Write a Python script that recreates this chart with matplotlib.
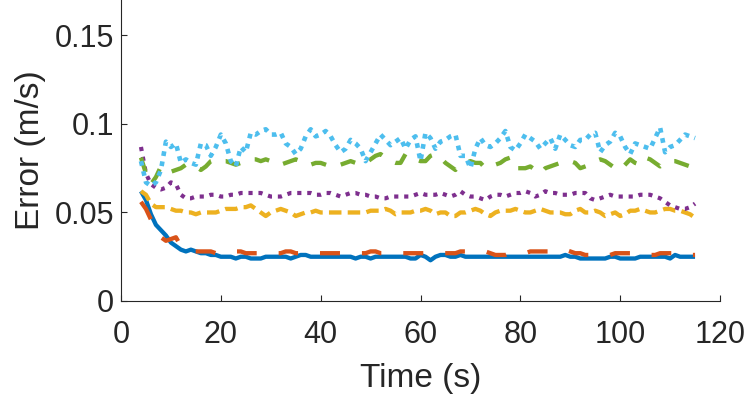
import numpy as np
import matplotlib
matplotlib.use("Agg")
from matplotlib import pyplot as plt

plt.rcParams['font.family'] = ['Liberation Sans', 'DejaVu Sans']
plt.rcParams['lines.scale_dashes'] = False

# time axis, one sample per second
t = list(range(4, 116))

err_blue = [.062, .057, .049, .043, .040, .037, .033, .031, .029, .028, .029, .028, .027, .027, .026, .026,
            .025, .025, .025, .024, .025, .025, .024, .024, .024, .025, .025, .025, .025, .025, .024, .025,
            .026, .026, .025, .025, .025, .025, .025, .025, .025, .025, .025, .024, .025, .025, .024, .025,
            .025, .025, .025, .025, .025, .025, .024, .024, .026, .025, .023, .025, .026, .026, .025, .025,
            .026, .025, .025, .025, .025, .025, .025, .025, .025, .025, .025, .025, .025, .025, .025, .025,
            .025, .025, .025, .025, .025, .026, .025, .025, .024, .024, .024, .024, .024, .024, .025, .025,
            .024, .024, .024, .024, .025, .025, .025, .025, .025, .025, .024, .026, .025, .025, .025, .025]
err_orange = [.056, .052, .046, .040, .036, .034, .035, .036, .031, .029, .028, .028, .028, .028, .028, .027,
              .027, .027, .028, .028, .028, .027, .027, .027, .027, .027, .027, .027, .027, .028, .028, .027,
              .027, .027, .027, .027, .027, .027, .027, .027, .027, .027, .027, .027, .027, .027, .028, .028,
              .027, .027, .027, .027, .027, .027, .027, .027, .027, .027, .027, .027, .027, .027, .027, .027,
              .028, .028, .028, .028, .028, .028, .027, .026, .026, .026, .027, .027, .027, .027, .028, .028,
              .028, .028, .028, .028, .028, .029, .028, .027, .027, .026, .026, .026, .026, .026, .026, .027,
              .027, .027, .027, .026, .026, .026, .026, .026, .027, .027, .027, .027, .026, .026, .026, .026]
err_yellow = [.062, .060, .055, .053, .053, .053, .052, .051, .051, .050, .050, .049, .050, .050, .050, .050,
              .051, .052, .052, .052, .053, .053, .054, .052, .050, .048, .050, .051, .052, .051, .050, .048,
              .049, .050, .050, .051, .050, .050, .050, .050, .050, .050, .050, .050, .050, .050, .051, .051,
              .051, .052, .051, .049, .050, .050, .050, .051, .051, .052, .051, .049, .050, .050, .048, .048,
              .050, .050, .051, .052, .051, .049, .048, .050, .051, .051, .051, .052, .051, .050, .050, .051,
              .052, .051, .050, .050, .050, .049, .049, .051, .052, .050, .050, .051, .050, .048, .049, .050,
              .048, .049, .051, .051, .052, .051, .050, .050, .051, .052, .052, .051, .051, .050, .049, .047]
err_purple = [.087, .072, .066, .064, .063, .064, .067, .066, .060, .058, .058, .059, .059, .059, .060, .060,
              .059, .059, .060, .060, .061, .061, .061, .061, .061, .060, .059, .059, .059, .060, .061, .061,
              .061, .061, .061, .060, .060, .061, .061, .060, .059, .060, .061, .061, .060, .060, .059, .059,
              .058, .058, .059, .059, .059, .059, .059, .060, .061, .060, .060, .060, .061, .060, .059, .060,
              .062, .060, .059, .059, .058, .057, .059, .060, .060, .059, .060, .061, .061, .062, .061, .059,
              .060, .062, .061, .061, .060, .060, .060, .061, .061, .061, .058, .057, .058, .059, .060, .059,
              .059, .059, .059, .059, .060, .060, .060, .059, .058, .056, .054, .053, .052, .052, .053, .055]
err_green = [.081, .072, .066, .070, .076, .074, .073, .074, .075, .077, .077, .076, .074, .076, .079, .080,
             .079, .079, .078, .077, .078, .079, .080, .080, .079, .080, .079, .077, .077, .078, .079, .080,
             .079, .077, .077, .078, .078, .077, .076, .076, .077, .078, .079, .078, .077, .078, .080, .082,
             .083, .081, .079, .078, .078, .083, .081, .080, .079, .079, .082, .083, .081, .078, .076, .074,
             .077, .078, .079, .078, .078, .075, .076, .077, .078, .080, .081, .075, .075, .075, .076, .074,
             .072, .075, .076, .077, .078, .079, .079, .078, .075, .076, .077, .079, .080, .079, .077, .075,
             .074, .077, .080, .078, .077, .081, .080, .078, .076, .078, .079, .079, .078, .077, .076, .074]
err_cyan = [.079, .067, .065, .067, .074, .090, .087, .089, .078, .080, .078, .077, .089, .088, .082, .087,
            .094, .089, .079, .076, .087, .084, .095, .094, .096, .097, .094, .094, .095, .089, .087, .083,
            .086, .093, .097, .093, .094, .096, .093, .088, .084, .086, .091, .089, .086, .079, .084, .089,
            .094, .091, .088, .090, .092, .086, .091, .093, .079, .095, .092, .086, .090, .091, .093, .094,
            .082, .082, .075, .086, .092, .088, .087, .089, .092, .096, .087, .085, .089, .094, .092, .090,
            .086, .089, .092, .086, .094, .091, .088, .087, .091, .091, .094, .095, .084, .088, .090, .095,
            .093, .087, .083, .089, .088, .087, .086, .092, .098, .084, .087, .088, .091, .094, .093, .092]

xticks = [0, 20, 40, 60, 80, 100, 120]
yticks = [0, 0.05, 0.1, 0.15]
ytick_labels = ['0', '0.05', '0.1', '0.15']

fig = plt.figure(figsize=(7.47, 3.99), dpi=100)
ax = fig.add_axes([121 / 747, 1 - 301 / 399, 599 / 747, 301 / 399])

lw = 3.1
ax.plot(t, err_blue, color='#0072BD', lw=lw, solid_capstyle='butt')
ax.plot(t, err_orange, color='#D95319', lw=lw, linestyle=(0, (14.4, 15.8)), dash_capstyle='butt')
ax.plot(t, err_yellow, color='#EDB120', lw=lw, linestyle=(0, (9, 4.5)), dash_capstyle='butt')
ax.plot(t, err_purple, color='#7E2F8E', lw=3.0, linestyle=(0, (3.0, 4.2)), dash_capstyle='butt')
ax.plot(t, err_green, color='#77AC30', lw=lw, linestyle=(0, (11, 11)), dash_capstyle='butt')
ax.plot(t, err_cyan, color='#4DBEEE', lw=3.3, linestyle=(0, (3.4, 4.0)), dash_capstyle='butt')

ax.set_xlim(0, 120)
ax.set_ylim(0, 0.17)
ax.set_xticks(xticks)
ax.set_yticks(yticks)
ax.set_yticklabels(ytick_labels)
ax.spines['top'].set_visible(False)
ax.spines['right'].set_visible(False)
for s in ['left', 'bottom']:
    ax.spines[s].set_color('#262626')
    ax.spines[s].set_linewidth(0.8)
ax.tick_params(direction='in', length=4, width=0.8, colors='#262626', labelsize=22)
ax.tick_params(axis='x', pad=14)
ax.tick_params(axis='y', pad=5)
ax.set_xlabel('Time (s)', fontsize=24, color='#262626', labelpad=9)
ax.set_ylabel('Error (m/s)', fontsize=24, color='#262626', labelpad=6)

fig.savefig('out.png', dpi=100)
